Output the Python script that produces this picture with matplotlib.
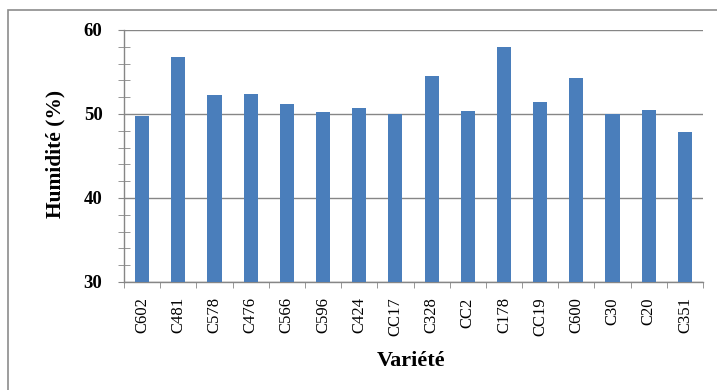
import matplotlib
matplotlib.use("Agg")
import matplotlib.pyplot as plt
from matplotlib.patches import Rectangle
from matplotlib.ticker import MultipleLocator, FixedLocator

# humidity per variety
varietes = ["C602", "C481", "C578", "C476", "C566", "C596", "C424", "CC17",
            "C328", "CC2", "C178", "CC19", "C600", "C30", "C20", "C351"]
humidite = [49.8, 56.75, 52.3, 52.4, 51.25, 50.25, 50.75, 50.05,
            54.55, 50.4, 58.0, 51.4, 54.3, 50.05, 50.5, 47.8]
y_ticks = [30, 40, 50, 60]

W, H = 717, 390
grey = "#868686"

fig = plt.figure(figsize=(W / 100, H / 100), dpi=100)
fig.patch.set_facecolor("white")

# chart frame (runs off the right and bottom edges)
fig.patches.append(Rectangle((8 / W, -0.05), 1.0, 1 - 10 / H + 0.05,
                             transform=fig.transFigure, fill=False,
                             edgecolor="#8c8c8c", linewidth=1.2))

ax = fig.add_axes([124 / W, 1 - 282 / H, (703 - 124) / W, (282 - 30) / H])

x = list(range(len(varietes)))
ax.bar(x, humidite, width=0.39, color="#4A7EBB", zorder=3)

ax.set_xlim(-0.5, len(varietes) - 0.5)
ax.set_ylim(30, 60)
ax.set_yticks(y_ticks)
ax.yaxis.set_minor_locator(MultipleLocator(2))
ax.set_xticks(x)
ax.set_xticklabels(varietes, rotation=90, family="Liberation Serif", fontsize=12)
ax.xaxis.set_minor_locator(FixedLocator([i - 0.5 for i in range(len(varietes) + 1)]))

for lab in ax.get_yticklabels():
    lab.set_family("Liberation Serif")
    lab.set_fontweight("bold")
    lab.set_fontsize(13.5)

ax.tick_params(axis="x", which="major", length=0, pad=11)
ax.tick_params(axis="x", which="minor", length=4, direction="out", color=grey)
ax.tick_params(axis="y", which="major", length=4.5, direction="out", color=grey, pad=11)
ax.tick_params(axis="y", which="minor", length=8, direction="inout", color=grey)

ax.grid(axis="y", which="major", color=grey, linewidth=1, zorder=0)
for side in ["top", "right"]:
    ax.spines[side].set_visible(False)
for side in ["left", "bottom"]:
    ax.spines[side].set_color(grey)
    ax.spines[side].set_linewidth(1)

fig.text(55 / W, 1 - 154 / H, "Humidité (%)", rotation=90, ha="center", va="center",
         family="Liberation Serif", fontweight="bold", fontsize=15.5)
fig.text(411 / W, 1 - 361 / H, "Variété", ha="center", va="center",
         family="Liberation Serif", fontweight="bold", fontsize=16)

fig.savefig("out.png", dpi=100)
